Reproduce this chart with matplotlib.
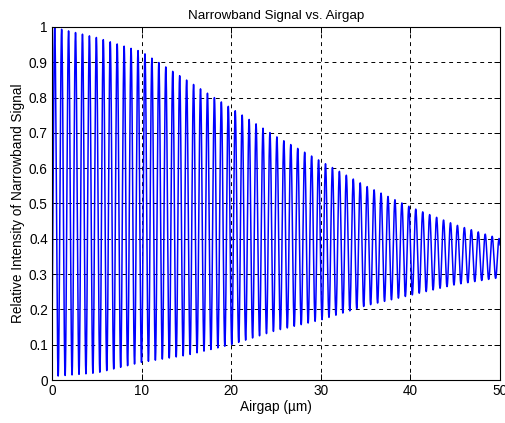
import numpy as np
import matplotlib
matplotlib.use("Agg")
import matplotlib.pyplot as plt

plt.rcParams['font.family'] = ['Liberation Sans', 'DejaVu Sans']

# Envelope values (at airgap sample positions, µm)
env_x = [0, 5, 10, 15, 20, 25, 30, 35, 40, 45, 50]
upper_env = [1.00, 0.97, 0.93, 0.85, 0.77, 0.69, 0.62, 0.55, 0.49, 0.44, 0.40]
lower_env = [0.01, 0.02, 0.05, 0.07, 0.10, 0.14, 0.17, 0.21, 0.24, 0.27, 0.29]
fringe_period = 0.775  # µm (λ/2 for 1550 nm)
first_peak = 0.3       # µm

x_ticks = [0, 10, 20, 30, 40, 50]
y_ticks = [0, 0.1, 0.2, 0.3, 0.4, 0.5, 0.6, 0.7, 0.8, 0.9, 1]
y_ticklabels = ['0', '0.1', '0.2', '0.3', '0.4', '0.5', '0.6', '0.7', '0.8', '0.9', '1']

x = np.linspace(0, 50, 20001)
up = np.interp(x, env_x, upper_env)
lo = np.interp(x, env_x, lower_env)
mid = (up + lo) / 2
amp = (up - lo) / 2
y = mid + amp * np.cos(2 * np.pi * (x - first_peak) / fringe_period)

fig = plt.figure(figsize=(5.06, 4.23), dpi=100)
fig.patch.set_facecolor('white')
ax = fig.add_axes([52/506, 1 - 380/423, 448/506, 353/423])
ax.plot(x, y, color='#0000ff', linewidth=1.1)
ax.set_xlim(0, 50)
ax.set_ylim(0, 1)
ax.set_xticks(x_ticks)
ax.set_yticks(y_ticks)
ax.set_yticklabels(y_ticklabels)
ax.grid(True, color='black', linestyle=(0, (4, 4)), linewidth=0.7)
ax.tick_params(direction='in', labelsize=9.8, length=4, width=0.7, top=True, right=True,
               labeltop=False, labelright=False, pad=3)
for s in ax.spines.values():
    s.set_linewidth(0.8)
ax.set_title('Narrowband Signal vs. Airgap', fontsize=9.6, pad=6)
ax.set_xlabel('Airgap (µm)', fontsize=9.8, labelpad=1)
ax.set_ylabel('Relative Intensity of Narrowband Signal', fontsize=9.8, labelpad=3)
fig.savefig('out.png', dpi=100)
